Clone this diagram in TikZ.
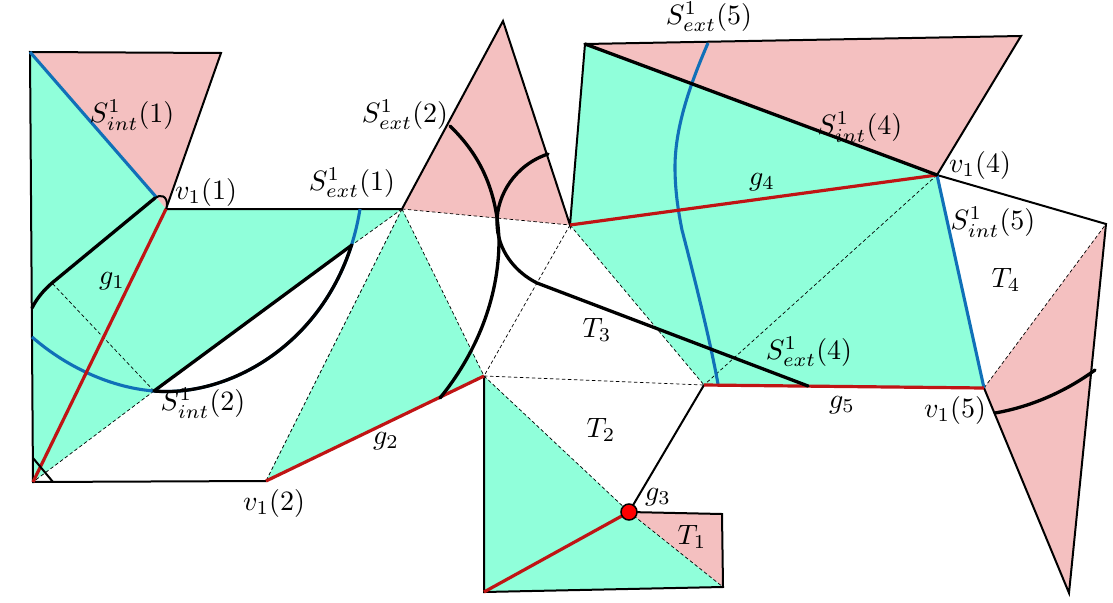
\documentclass[tikz,border=0pt]{standalone}
\definecolor{mint}{RGB}{144,255,218}
\definecolor{rosy}{RGB}{244,192,192}
\definecolor{bluel}{RGB}{16,112,184}
\definecolor{redl}{RGB}{192,20,20}
\tikzset{
  greenf/.style={fill=mint,draw=none},
  pinkf/.style={fill=rosy,draw=none},
  edgeb/.style={draw=black,line width=2pt},
  thickb/.style={draw=black,line width=3.3pt,line cap=round},
  bluep/.style={draw=bluel,line width=3.1pt},
  redp/.style={draw=redl,line width=3.2pt},
  dashl/.style={draw=black,line width=0.7pt,dash pattern=on 3.5pt off 2.5pt},
  lab/.style={inner sep=0pt,outer sep=0pt,scale=2.8}
}
\begin{document}
\begin{tikzpicture}[x=1pt,y=-1pt]
\useasboundingbox (0,0) rectangle (1113,602);
\fill[white] (0,0) rectangle (1113,602);
% vertices
\coordinate (A) at (30,52);
\coordinate (B) at (221,53);
\coordinate (V) at (166,209);
\coordinate (C) at (402,209);
\coordinate (D) at (33,482);
\coordinate (E) at (266,481);
\coordinate (W) at (154,391);
\coordinate (X) at (352,245);
\coordinate (W2) at (52,283);
\coordinate (H) at (484,376);
\coordinate (Ap) at (503,21);
\coordinate (I) at (570,225);
\coordinate (J) at (585,44);
\coordinate (K) at (1021,36);
\coordinate (L) at (937,175);
\coordinate (M) at (1106,224);
\coordinate (N) at (984,388);
\coordinate (O) at (1069,593);
\coordinate (P) at (704,385);
\coordinate (Q) at (629,512);
\coordinate (R) at (722,514);
\coordinate (S) at (723,587);
\coordinate (U) at (484,592);
% fills
\path[pinkf] (A)--(B)--(V)--cycle;
\path[pinkf] (C)--(Ap)--(I)--cycle;
\path[pinkf] (J)--(K)--(L)--cycle;
\path[pinkf] (N)--(M)--(O)--cycle;
\path[pinkf] (Q)--(R)--(S)--cycle;
\path[greenf] (A)--(V)--(C)--(X)--(W)--(D)--cycle;
\path[greenf] (E)--(C)--(H)--cycle;
\path[greenf] (J)--(L)--(N)--(P)--(I)--cycle;
\path[greenf] (U)--(H)--(Q)--(S)--cycle;
% dashed
\draw[dashl] (C)--(X) (W)--(D) (W)--(W2);
\draw[dashl] (C)--(E) (C)--(H) (C)--(I) (I)--(H) (I)--(P) (H)--(P) (L)--(P) (N)--(M) (H)--(Q) (Q)--(S);
% thin black edges
\draw[edgeb,line join=miter] (V)--(B)--(A)--(D)--(E);
\draw[edgeb] (V)--(C)--(Ap)--(I)--(J)--(K)--(L)--(M)--(O)--(N);
\draw[edgeb] (P)--(Q)--(R)--(S)--(U)--(H);
% blue
\draw[bluep] (A)--(157,198);
\draw[bluep] (L)--(N);
\draw[bluep] (32,337) .. controls (70,370) and (115,388) .. (W) .. controls (235,398) and (340,335) .. (360,209);
\draw[bluep] (708,43) .. controls (692,80) and (675,125) .. (675,167) .. controls (675,190) and (678,210) .. (682,230) .. controls (695,280) and (710,340) .. (718,384);
% red
\draw[redp] (D)--(V);
\draw[redp] (E)--(H);
\draw[redp] (I)--(L);
\draw[redp] (P)--(N);
\draw[redp] (U)--(Q);
% thick black
\draw[thickb] (J)--(L);
\draw[thickb] (W)--(X);
\begin{scope}
\clip (100,245) rectangle (400,420);
\draw[thickb] (W) .. controls (235,398) and (340,335) .. (360,209);
\end{scope}
\draw[thickb] (32,308) .. controls (37,298) and (44,290) .. (W2) -- (155,198);
\draw[draw=black,line width=2pt] (155,198) .. controls (160,194) and (168,195) .. (167,207);
\draw[edgeb] (33,458)--(53,482);
\draw[thickb] (450,126) .. controls (480,155) and (497,190) .. (499,240) .. controls (499,300) and (475,355) .. (440,398);
\draw[thickb] (548,154) .. controls (515,165) and (497,195) .. (497,222) .. controls (497,250) and (515,272) .. (537,283) -- (808,386);
\draw[thickb] (995,413) .. controls (1030,407) and (1065,392) .. (1095,370);
% marker
\node[circle,fill=red,draw=black,line width=1.5pt,minimum size=16pt,inner sep=0pt] (dot) at (Q) {};
% labels
\node[lab] (l1) at (132,115) {$S^1_{int}(1)$};
\node[lab] (l2) at (206,192) {$v_1(1)$};
\node[lab] (l3) at (352,183) {$S^1_{ext}(1)$};
\node[lab] (l4) at (405,115) {$S^1_{ext}(2)$};
\node[lab] (l5) at (709,17) {$S^1_{ext}(5)$};
\node[lab] (l6) at (860,127) {$S^1_{int}(4)$};
\node[lab] (l7) at (980,165) {$v_1(4)$};
\node[lab] (l8) at (762,182) {$g_4$};
\node[lab] (l9) at (993,222) {$S^1_{int}(5)$};
\node[lab] (l10) at (1006,280) {$T_4$};
\node[lab] (l11) at (597,330) {$T_3$};
\node[lab] (l12) at (809,352) {$S^1_{ext}(4)$};
\node[lab] (l13) at (842,405) {$g_5$};
\node[lab] (l14) at (955,410) {$v_1(5)$};
\node[lab] (l15) at (112,281) {$g_1$};
\node[lab] (l16) at (203,403) {$S^1_{int}(2)$};
\node[lab] (l17) at (386,441) {$g_2$};
\node[lab] (l18) at (274,503) {$v_1(2)$};
\node[lab] (l19) at (601,430) {$T_2$};
\node[lab] (l20) at (658,497) {$g_3$};
\node[lab] (l21) at (692,537) {$T_1$};
\end{tikzpicture}
\end{document}
